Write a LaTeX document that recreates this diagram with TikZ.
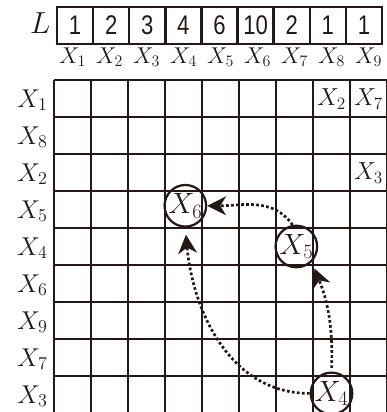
\documentclass[tikz,border=0pt]{standalone}
\usepackage{fix-cm}
\usepackage{fontspec}
\usepackage{graphicx}
\usetikzlibrary{arrows.meta}
\newfontfamily\digitfont{Liberation Sans}
\newcommand{\narrow}[1]{\scalebox{0.82}[1]{#1}}
\definecolor{ink}{HTML}{231815}

\begin{document}
\begin{tikzpicture}[x=1.11cm,y=1.11cm,
    gridline/.style={ink,line width=1.9pt},
    lenbox/.style={draw=ink,line width=2pt,minimum width=1.083cm,minimum height=1.11cm,
      inner sep=0pt,font=\fontsize{23}{26}\selectfont\digitfont,text=ink},
    lbl/.style={inner sep=0pt,font=\fontsize{21}{24}\selectfont,text=ink},
    hit/.style={circle,draw=ink,line width=1.9pt,minimum size=1.14cm,inner sep=0pt,
      font=\fontsize{25}{28}\selectfont,text=ink},
    move/.style={ink,line width=2.3pt,dotted,-{Stealth[length=16pt,width=16pt,inset=5pt]}}]
  \useasboundingbox (-1.4595,2.162) rectangle (9.0,-8.973);
  % table
  \foreach \i in {0,...,9} {
    \draw[gridline] (\i,0) -- (\i,-9);
    \draw[gridline] (0,-\i) -- (9,-\i);
  }
  % L row
  \node[lbl,anchor=base east,font=\fontsize{26}{30}\selectfont] (lname) at (-0.09,1.27) {$L$};
  \foreach \v [count=\k] in {1,2,3,4,6,10,2,1,1}
    \node[lenbox] (l\k) at ({0.081+0.976*(\k-0.5)},1.473) {\narrow{\v}};
  % column and row heads
  \foreach \k in {1,...,9}
    \node[lbl,anchor=base,font=\fontsize{19.5}{22}\selectfont] (c\k) at (\k-0.5,0.45) {$X_{\k}$};
  \foreach \r [count=\j] in {1,8,2,5,4,6,9,7,3}
    \node[lbl,anchor=base east,font=\fontsize{22}{26}\selectfont] (r\j) at (-0.17,{-\j+0.27}) {$X_{\r}$};
  % entries
  \node[lbl,anchor=base] (e18) at (7.5,-0.7) {$X_2$};
  \node[lbl,anchor=base] (e19) at (8.5,-0.7) {$X_7$};
  \node[lbl,anchor=base] (e39) at (8.5,-2.7) {$X_3$};
  % moves
  \node[hit] (x6) at (3.55,-3.4) {$X_6$};
  \node[hit] (x5) at (6.55,-4.5) {$X_5$};
  \node[hit] (x4) at (7.5,-8.47) {$X_4$};
  \draw[move,shorten <=3pt,shorten >=6pt] (x4.north) to[out=88,in=-68] (x5.-45);
  \draw[move] (x5.100) to[out=125,in=0] (x6.east);
  \draw[move,shorten >=6pt] (x4.west) to[out=180,in=-85] (x6.south);
\end{tikzpicture}
\end{document}
